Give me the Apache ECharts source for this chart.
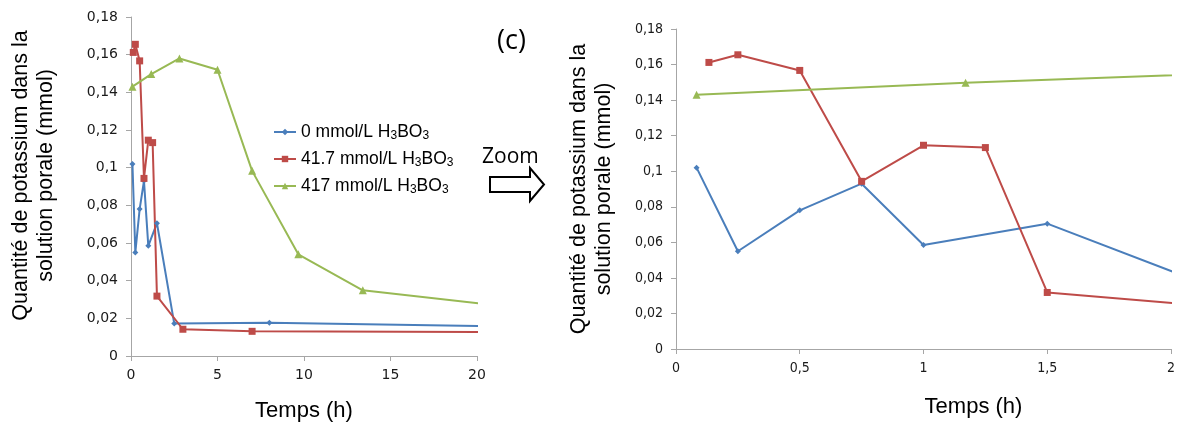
<!DOCTYPE html>
<html>
<head>
<meta charset="utf-8">
<script src="https://cdn.jsdelivr.net/npm/echarts@6/dist/echarts.min.js"></script>
<style>
html,body{margin:0;padding:0;background:#fff;}
#chart{width:1178px;height:428px;}
</style>
</head>
<body>
<div id="chart"></div>
<script>
// ---- data (time in hours, quantity in mmol) ----
const seriesNames = ['0 mmol/L H3BO3', '41.7 mmol/L H3BO3', '417 mmol/L H3BO3'];
const blueX = [0.083, 0.25, 0.5, 0.75, 1, 1.5, 2.5, 8, 24];
const blueY = [0.102, 0.055, 0.078, 0.093, 0.0585, 0.0705, 0.0172, 0.0177, 0.0153];
const redX = [0.133, 0.25, 0.5, 0.75, 1, 1.25, 1.5, 3, 7, 24];
const redY = [0.1612, 0.1655, 0.1567, 0.0943, 0.1146, 0.1133, 0.0318, 0.0142, 0.0131, 0.0126];
const greenX = [0.083, 1.17, 2.8, 5, 7, 9.67, 13.4, 24];
const greenY = [0.1430, 0.1497, 0.1580, 0.1520, 0.0983, 0.0540, 0.0349, 0.0240];
const yTicks = [0, 0.02, 0.04, 0.06, 0.08, 0.1, 0.12, 0.14, 0.16, 0.18];
const xTicksLeft = [0, 5, 10, 15, 20];
const xTicksRight = [0, 0.5, 1, 1.5, 2];
const yTitle = 'Quantité de potassium dans la\nsolution porale (mmol)';
const xTitle = 'Temps (h)';

const colors = ['#4a7ebb', '#be4b48', '#98b954'];
const symbols = ['diamond', 'rect', 'triangle'];
const symbolSizes = [6, 7, 8];
const xs = [blueX, redX, greenX];
const ys = [blueY, redY, greenY];

function fr(v) { return String(+v.toFixed(2)).replace('.', ','); }

const chart = echarts.init(document.getElementById('chart'), null, {renderer: 'canvas'});

const axisLineStyle = {lineStyle: {color: '#a6a6a6', width: 1}};
const axisTick = {show: true, length: 5, lineStyle: {color: '#a6a6a6'}};

function yAxis(gridIndex, family, gap, pad) {
  return {
    type: 'value', gridIndex: gridIndex, min: yTicks[0], max: yTicks[yTicks.length - 1], interval: 0.02,
    axisLine: Object.assign({show: true}, axisLineStyle), axisTick: axisTick, splitLine: {show: false},
    axisLabel: {formatter: fr, color: '#1a1a1a', fontFamily: family, fontSize: 14, margin: 13},
    name: yTitle, nameLocation: 'middle', nameRotate: 90, nameGap: gap,
    nameTextStyle: {fontFamily: 'Liberation Sans, Arial', fontSize: 21.5, lineHeight: 25, color: '#000', padding: pad}
  };
}
function xAxis(gridIndex, ticks, interval, family, gap, pad) {
  return {
    type: 'value', gridIndex: gridIndex, min: ticks[0], max: ticks[ticks.length - 1], interval: interval,
    axisLine: Object.assign({show: true, onZero: false}, axisLineStyle), axisTick: axisTick, splitLine: {show: false},
    axisLabel: {formatter: fr, color: '#1a1a1a', fontFamily: family, fontSize: 14, margin: 12},
    name: xTitle, nameLocation: 'middle', nameGap: gap,
    nameTextStyle: {fontFamily: 'Liberation Sans, Arial', fontSize: 22, color: '#000', padding: pad}
  };
}

const series = [];
[0, 1].forEach(function (g) {
  for (let i = 0; i < 3; i++) {
    series.push({
      name: seriesNames[i], type: 'line', xAxisIndex: g, yAxisIndex: g, clip: true,
      data: xs[i].map(function (x, k) { return [x, ys[i][k]]; }),
      symbol: symbols[i], symbolSize: symbolSizes[i], showAllSymbol: true,
      lineStyle: {color: colors[i], width: 2}, itemStyle: {color: colors[i]},
      emphasis: {disabled: true}, animation: false
    });
  }
});

function legendFmt(name) {
  const m = name.match(/^(.*) H3BO3$/);
  return '{a|' + m[1] + ' H}{s|3}{a|BO}{s|3}';
}

chart.setOption({
  animation: false,
  grid: [
    {left: 131, right: 701, top: 17, bottom: 72, containLabel: false},
    {left: 676, right: 7, top: 29, bottom: 79, containLabel: false}
  ],
  xAxis: [
    xAxis(0, xTicksLeft, 5, 'DejaVu Sans', 44, [0, 0, 0, 0]),
    xAxis(1, xTicksRight, 0.5, 'DejaVu Sans Condensed, DejaVu Sans', 47, [0, 0, 0, 100])
  ],
  yAxis: [
    yAxis(0, 'DejaVu Sans', 72, [0, 0, 0, 22]),
    yAxis(1, 'DejaVu Sans Condensed, DejaVu Sans', 59, [0, 0, 0, 0])
  ],
  legend: {
    data: seriesNames, orient: 'vertical', left: 268, top: 117, itemGap: 7,
    itemWidth: 22, itemHeight: 8, selectedMode: false,
    formatter: legendFmt,
    textStyle: {
      color: '#000', fontFamily: 'Liberation Sans, Arial',
      rich: {
        a: {fontSize: 17.5, lineHeight: 20, fontFamily: 'Liberation Sans, Arial', color: '#000'},
        s: {fontSize: 12, lineHeight: 12, verticalAlign: 'bottom', padding: [8, 0, 0, 0], fontFamily: 'Liberation Sans, Arial', color: '#000'}
      }
    }
  },
  graphic: [
    {type: 'text', left: 497, top: 28, style: {text: '(c)', font: '27px "Open Sans", "Noto Sans", sans-serif', fill: '#000'}},
    {type: 'text', left: 482, top: 147, style: {text: 'Zoom', font: '21px "Open Sans", "Noto Sans", sans-serif', fill: '#000'}},
    {type: 'polygon', shape: {points: [[490, 177], [530, 177], [530, 168], [544, 184.5], [530, 201], [530, 192], [490, 192]]},
     style: {fill: '#fff', stroke: '#000', lineWidth: 2}}
  ],
  series: series
});
</script>
</body>
</html>
